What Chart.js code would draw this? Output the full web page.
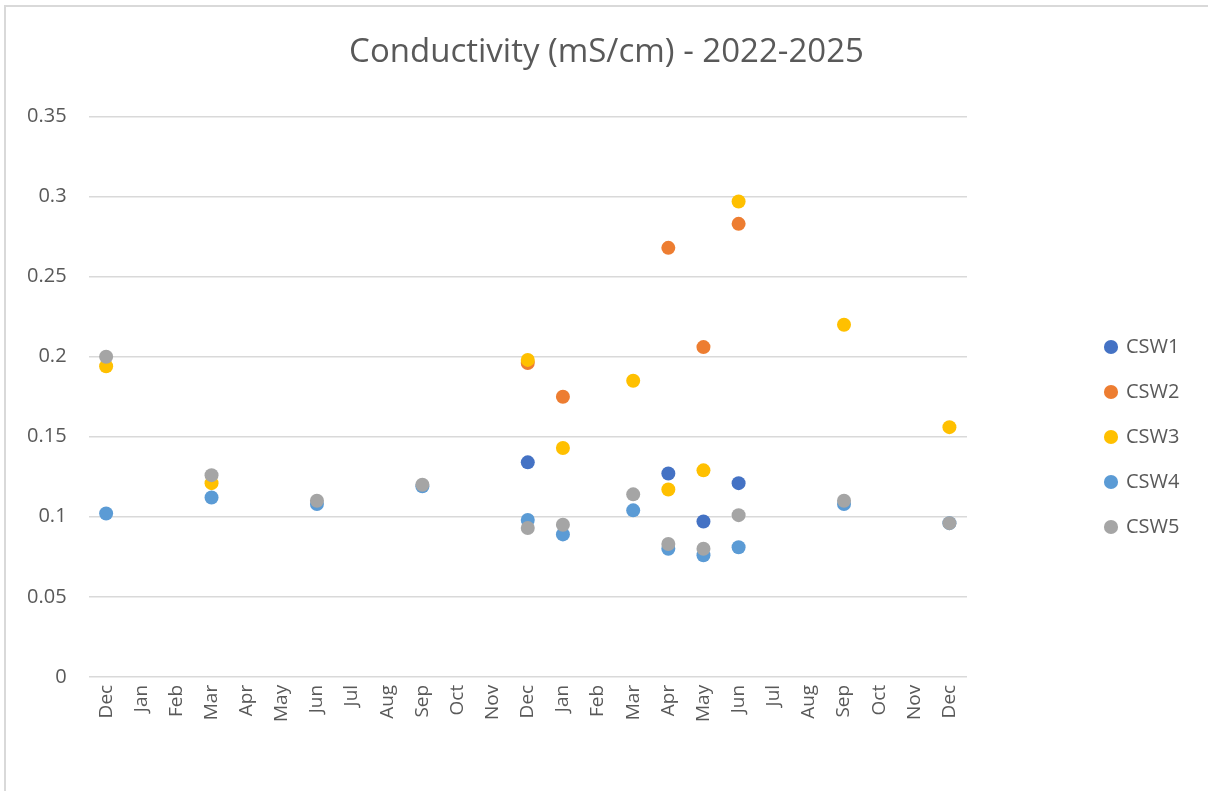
<!DOCTYPE html>
<html>
<head>
<meta charset="utf-8">
<script src="https://cdn.jsdelivr.net/npm/chart.js@4"></script>
<style>
  html, body { margin: 0; padding: 0; background: #fff; }
  #wrap { position: relative; width: 1208px; height: 791px; overflow: hidden; }
  #frame { position: absolute; left: 4px; top: 5px; width: 1300px; height: 900px;
           border-left: 2px solid #d9d9d9; border-top: 2px solid #d9d9d9; }
  canvas { position: absolute; left: 0; top: 0; }
</style>
</head>
<body>
<div id="wrap">
  <div id="frame"></div>
  <canvas id="condChart" width="1208" height="791"></canvas>
</div>
<script>
const months = ['Dec', 'Jan', 'Feb', 'Mar', 'Apr', 'May', 'Jun', 'Jul', 'Aug', 'Sep', 'Oct', 'Nov',
                'Dec', 'Jan', 'Feb', 'Mar', 'Apr', 'May', 'Jun', 'Jul', 'Aug', 'Sep', 'Oct', 'Nov', 'Dec'];

const csw1 = [null, null, null, null, null, null, null, null, null, null, null, null,
              0.134, null, null, null, 0.127, 0.097, 0.121, null, null, null, null, null, null];
const csw2 = [null, null, null, null, null, null, null, null, null, null, null, null,
              0.196, 0.175, null, null, 0.268, 0.206, 0.283, null, null, null, null, null, null];
const csw3 = [0.194, null, null, 0.121, null, null, null, null, null, null, null, null,
              0.198, 0.143, null, 0.185, 0.117, 0.129, 0.297, null, null, 0.220, null, null, 0.156];
const csw4 = [0.102, null, null, 0.112, null, null, 0.108, null, null, 0.119, null, null,
              0.098, 0.089, null, 0.104, 0.080, 0.076, 0.081, null, null, 0.108, null, null, 0.096];
const csw5 = [0.200, null, null, 0.126, null, null, 0.110, null, null, 0.120, null, null,
              0.093, 0.095, null, 0.114, 0.083, 0.080, 0.101, null, null, 0.110, null, null, 0.096];

const yTicks = [0, 0.05, 0.1, 0.15, 0.2, 0.25, 0.3, 0.35];

const textColor = '#595959';
const fontFamily = '"Open Sans", "Liberation Sans", sans-serif';

function series(label, data, color, order) {
    return {
        label: label,
        data: data,
        showLine: false,
        order: order,
        backgroundColor: color,
        borderColor: color,
        pointRadius: 7,
        pointHoverRadius: 7,
        pointBorderWidth: 0
    };
}

// widen the legend box so the plot ends where the reference does, then nudge the items
const legendPlacer = {
    id: 'legendPlacer',
    beforeInit(chart) {
        const fit = chart.legend.fit;
        chart.legend.fit = function () {
            fit.call(this);
            this.width = 241;
        };
    },
    afterLayout(chart) {
        chart.legend.left += 114;
        chart.legend.top += 72;
        chart.legend.bottom += 72;
    }
};

const ctx = document.getElementById('condChart').getContext('2d');
new Chart(ctx, {
    type: 'line',
    data: {
        labels: months,
        datasets: [
            series('CSW1', csw1, '#4472C4', 5),
            series('CSW2', csw2, '#ED7D31', 4),
            series('CSW3', csw3, '#FFC000', 3),
            series('CSW4', csw4, '#5B9BD5', 2),
            series('CSW5', csw5, '#A5A5A5', 1)
        ]
    },
    options: {
        responsive: false,
        animation: false,
        layout: { padding: { left: 5, right: 0, top: 0, bottom: 61 } },
        plugins: {
            title: {
                display: true,
                text: 'Conductivity (mS/cm) - 2022-2025',
                color: textColor,
                font: { family: fontFamily, size: 33, weight: 'normal' },
                padding: { top: 33, bottom: 44 }
            },
            legend: {
                position: 'right',
                labels: {
                    usePointStyle: true,
                    pointStyle: 'circle',
                    boxWidth: 10,
                    boxHeight: 10,
                    padding: 25,
                    color: textColor,
                    font: { family: fontFamily, size: 20 },
                    sort: (a, b) => a.datasetIndex - b.datasetIndex
                }
            },
            tooltip: { enabled: false }
        },
        scales: {
            x: {
                offset: true,
                grid: { display: false, drawTicks: false },
                border: { display: false },
                ticks: {
                    autoSkip: false,
                    minRotation: 90,
                    maxRotation: 90,
                    padding: 8,
                    color: textColor,
                    font: { family: fontFamily, size: 19 }
                }
            },
            y: {
                min: 0,
                max: 0.35,
                afterBuildTicks: (axis) => { axis.ticks = yTicks.map(v => ({ value: v })); },
                grid: { color: '#d9d9d9', lineWidth: 1.5, drawTicks: false },
                border: { display: false },
                ticks: {
                    padding: 22,
                    color: textColor,
                    font: { family: fontFamily, size: 20 },
                    callback: (v) => String(v)
                }
            }
        }
    },
    plugins: [legendPlacer]
});
</script>
</body>
</html>
